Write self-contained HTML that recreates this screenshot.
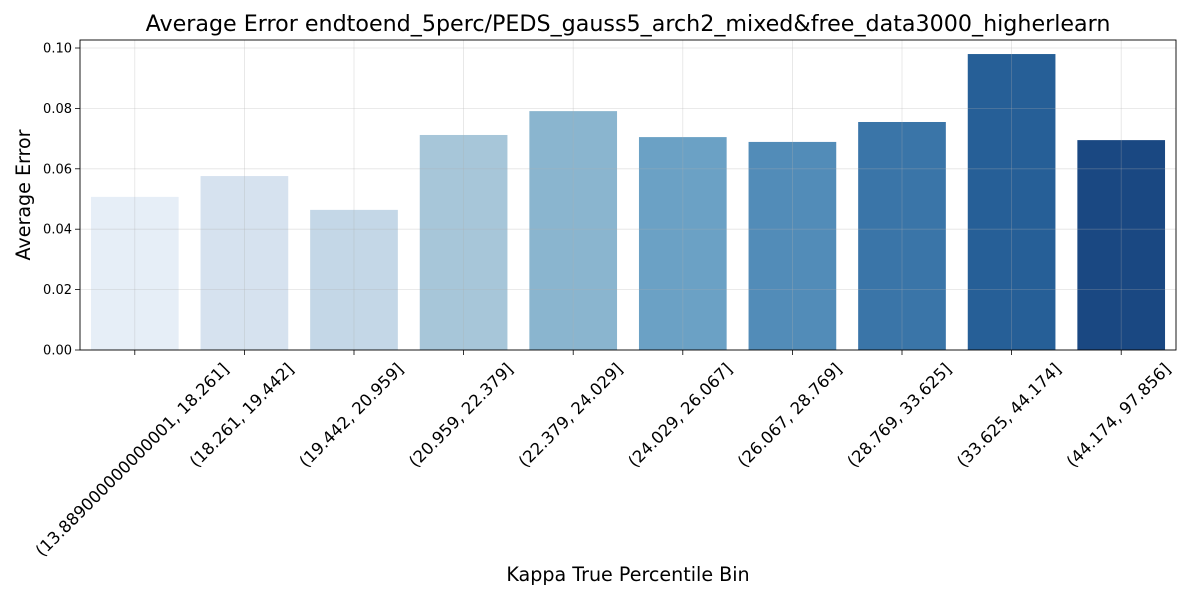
<!DOCTYPE html>
<html><head><meta charset="utf-8"><style>body{margin:0;background:#fff}svg{display:block;font-family:"DejaVu Sans","Liberation Sans",sans-serif}</style></head>
<body>
<svg id="chart" width="1200" height="600">
<rect width="1200" height="600" fill="#fff"/>
<g id="bars"></g><g id="grid"></g><g id="axes"></g>
<text x="628" y="31" font-size="22.2" text-anchor="middle">Average Error endtoend_5perc/PEDS_gauss5_arch2_mixed&amp;free_data3000_higherlearn</text>
<text x="628" y="581" font-size="19.1" text-anchor="middle">Kappa True Percentile Bin</text>
<text transform="translate(30,195) rotate(-90)" font-size="19.1" text-anchor="middle">Average Error</text>
</svg>
<script>
const categories=["(13.889000000000001, 18.261]","(18.261, 19.442]","(19.442, 20.959]","(20.959, 22.379]","(22.379, 24.029]","(24.029, 26.067]","(26.067, 28.769]","(28.769, 33.625]","(33.625, 44.174]","(44.174, 97.856]"];
const values=[0.0507,0.0576,0.0464,0.0712,0.0791,0.0705,0.0689,0.0755,0.0980,0.0695];
const yTicks=[0,0.02,0.04,0.06,0.08,0.10];
const yTickLabels=["0.00","0.02","0.04","0.06","0.08","0.10"];
const colors=["#e6eef7","#d6e2ef","#c4d7e7","#a7c6d9","#8ab5cf","#6ba1c5","#528cb8","#3a75a8","#265f97","#1a4882"];
const L=80,R=1176,T=40,B=350,yMax=0.10265;
const NS="http://www.w3.org/2000/svg";
const y=v=>B-(v/yMax)*(B-T);
const step=(R-L)/categories.length;
const xc=i=>L+step*(i+0.5);
function mk(t,a,p){const e=document.createElementNS(NS,t);for(const k in a)e.setAttribute(k,a[k]);p.appendChild(e);return e;}
const bars=document.getElementById('bars'),grid=document.getElementById('grid'),axes=document.getElementById('axes');
values.forEach((v,i)=>{const bw=step*0.8;
const r=mk('rect',{x:xc(i)-bw/2,y:y(v),width:bw,height:B-y(v),fill:colors[i%colors.length]},bars);

});
yTicks.forEach((t,i)=>{const g=mk('line',{x1:L,x2:R,y1:y(t),y2:y(t),stroke:"#b0b0b0","stroke-opacity":0.35,"stroke-width":0.8},grid);


mk('line',{x1:L-5,x2:L,y1:y(t),y2:y(t),stroke:"#000","stroke-width":0.8},axes);
const tx=mk('text',{x:L-8,y:y(t)+4.5,"font-size":13,"text-anchor":"end"},axes);tx.textContent=yTickLabels[i];

});
categories.forEach((c,i)=>{const x=xc(i);
const g=mk('line',{x1:x,x2:x,y1:T,y2:B,stroke:"#b0b0b0","stroke-opacity":0.35,"stroke-width":0.8},grid);


mk('line',{x1:x,x2:x,y1:B,y2:B+5,stroke:"#000","stroke-width":0.8},axes);
const tx=mk('text',{"font-size":16.5,"text-anchor":"middle"},axes);tx.textContent=c;


const len=tx.getComputedTextLength();
const half=(len*0.7071+16.5*0.7071)/2;
tx.setAttribute('transform',`translate(${x-3},${B+10+half}) rotate(-45) translate(0,6)`);});
const f=mk('rect',{x:L,y:T,width:R-L,height:B-T,fill:"none",stroke:"#000","stroke-width":0.9},axes);


</script>
</body></html>
